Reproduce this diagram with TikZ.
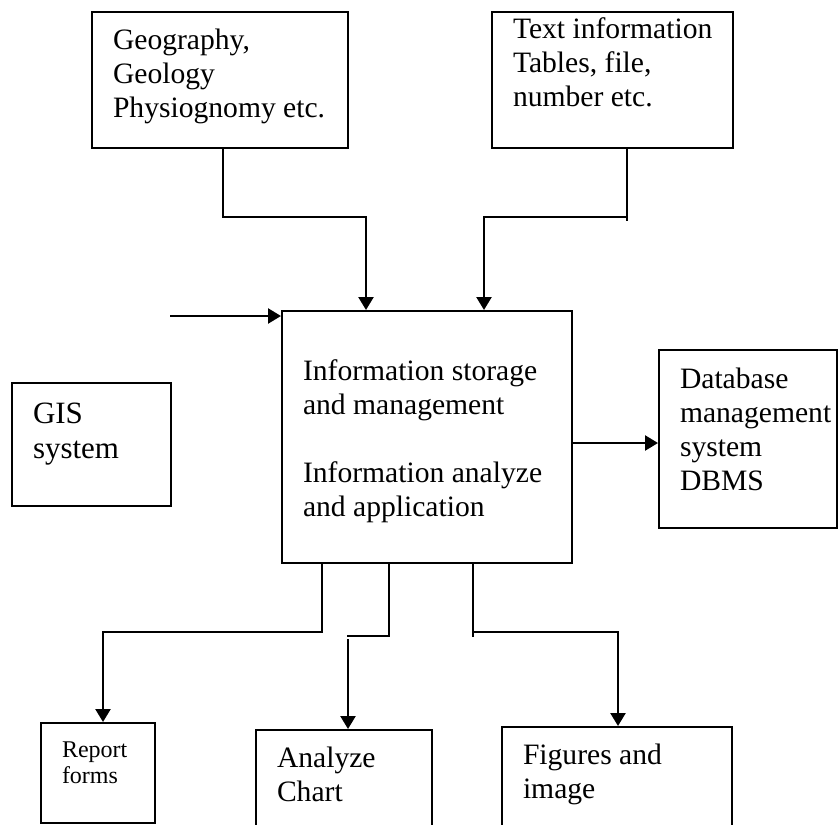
\documentclass[tikz,border=0pt]{standalone}
\usepackage{fontspec}
\setmainfont{Liberation Serif}
\usetikzlibrary{arrows.meta}
\begin{document}
\begin{tikzpicture}[x=1pt,y=-1pt,
  box/.style={draw, line width=2pt, inner sep=0pt, outer sep=0pt, anchor=north west},
  lbl/.style={anchor=base west, inner sep=0pt, outer sep=0pt, font=\fontsize{29.6}{34}\selectfont},
  plain/.style={line width=1.8pt, line cap=rect},
  arr/.style={line width=2.5pt, shorten >=1pt, -{Triangle[width=15pt,length=13pt]}}
]
\useasboundingbox (0,0) rectangle (839,825);
\clip (0,0) rectangle (839,825);

% boxes
\node[box, minimum width=256, minimum height=136] (geo) at (92,12) {};
\node[box, minimum width=241, minimum height=136] (info) at (492,12) {};
\node[box, minimum width=290, minimum height=252] (core) at (282,311) {};
\node[box, minimum width=159, minimum height=123] (gis) at (12,383) {};
\node[box, minimum width=178, minimum height=178] (dbms) at (659,350) {};
\node[box, minimum width=114, minimum height=100] (report) at (41,723) {};
\node[box, minimum width=176, minimum height=130] (chart) at (256,730) {};
\node[box, minimum width=230, minimum height=130] (figs) at (502,727) {};

% texts
\node[lbl] (geotext) at (113,49) {\parbox[t]{240pt}{Geography,\\Geology\\Physiognomy etc.}};
\node[lbl] (infotext) at (513,38) {\parbox[t]{215pt}{Text information\\Tables, file,\\number etc.}};
\node[lbl, font=\fontsize{31}{35}\selectfont] (gistext) at (33,423) {\parbox[t]{130pt}{GIS\\system}};
\node[lbl] (coretext) at (303,380) {\parbox[t]{265pt}{Information storage\\and management\\[34pt]Information analyze\\and application}};
\node[lbl] (dbmstext) at (680,388) {\parbox[t]{155pt}{Database\\management\\system\\DBMS}};
\node[lbl, font=\fontsize{24}{26}\selectfont] (reporttext) at (62,757) {\parbox[t]{90pt}{Report\\forms}};
\node[lbl] (charttext) at (277,767) {\parbox[t]{150pt}{Analyze\\Chart}};
\node[lbl] (figstext) at (523,764) {\parbox[t]{200pt}{Figures and\\image}};

% inputs from the top
\coordinate (g1) at (223,217);
\coordinate (g2) at (366,217);
\draw[plain] (geo.south -| g1) -- (g1) -- (g2);
\draw[arr] (g2) -- (g2 |- core.north);

\coordinate (t1) at (627,217);
\coordinate (t2) at (484,217);
\coordinate (t0) at (627,220);
\draw[plain] (info.south -| t1) -- (t0);
\draw[plain] (t1) -- (t2);
\draw[arr] (t2) -- (t2 |- core.north);

% input from the left
\coordinate (in) at (170,316);
\draw[arr] (in) -- (in -| core.west);

% output to the DBMS
\coordinate (dy) at (0,443);
\draw[arr] (core.east |- dy) -- (dbms.west |- dy);

% outputs at the bottom
\coordinate (r1) at (322,632);
\coordinate (r2) at (103,632);
\draw[plain] (core.south -| r1) -- (r1) -- (r2);
\draw[arr] (r2) -- (r2 |- report.north);

\coordinate (a1) at (389,636);
\coordinate (a2) at (348,636);
\coordinate (a3) at (348,639);
\draw[plain] (core.south -| a1) -- (a1) -- (a2);
\draw[arr] (a3) -- (a3 |- chart.north);

\coordinate (f1) at (473,632);
\coordinate (f0) at (473,636);
\coordinate (f2) at (618,632);
\draw[plain] (core.south -| f1) -- (f0);
\draw[plain] (f1) -- (f2);
\draw[arr] (f2) -- (f2 |- figs.north);
\end{tikzpicture}
\end{document}
